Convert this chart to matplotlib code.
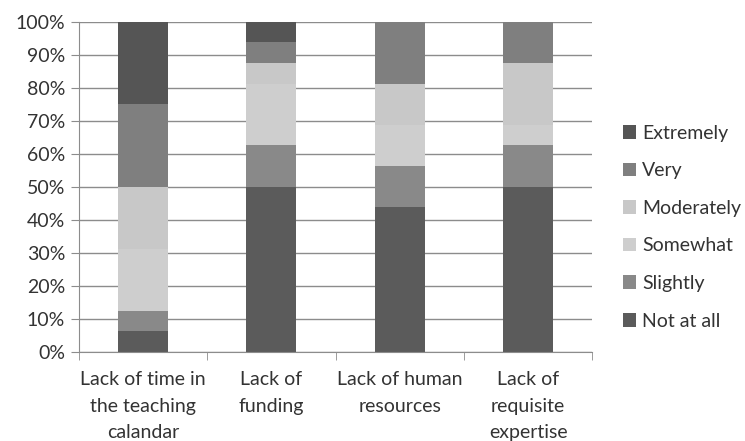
import matplotlib.pyplot as plt
import numpy as np
from matplotlib.ticker import FixedLocator, PercentFormatter

categories = ["Lack of time in\nthe teaching\ncalandar", "Lack of\nfunding",
              "Lack of human\nresources", "Lack of\nrequisite\nexpertise"]
series = ["Not at all", "Slightly", "Somewhat", "Moderately", "Very", "Extremely"]

not_at_all = [6.25, 50.0, 43.75, 50.0]
slightly = [6.25, 12.5, 12.5, 12.5]
somewhat = [18.75, 18.75, 12.5, 6.25]
moderately = [18.75, 6.25, 12.5, 18.75]
very = [25.0, 6.25, 18.75, 12.5]
extremely = [25.0, 6.25, 0.0, 0.0]

colours = ["#5b5b5b", "#898989", "#cecece", "#c8c8c8", "#7f7f7f", "#555555"]

plt.rcParams['font.family'] = ['Lato', 'DejaVu Sans']

fig = plt.figure(figsize=(7.45, 4.41), dpi=100)
ax = fig.add_axes([0.106, 0.202, 0.689, 0.749])

x = np.arange(len(categories))
bottom = np.zeros(len(categories))
handles = []
for name, vals, c in zip(series, [not_at_all, slightly, somewhat, moderately, very, extremely], colours):
  h = ax.bar(x, vals, width=0.39, bottom=bottom, color=c, zorder=2, label=name)
  handles.append(h)
  bottom += np.array(vals)

ax.set_xlim(-0.5, len(categories) - 0.5)
ax.set_ylim(0, 100)
ax.yaxis.set_major_locator(FixedLocator(np.arange(0, 101, 10)))
ax.yaxis.set_major_formatter(PercentFormatter(decimals=0))
ax.grid(axis='y', color='#8c8c8c', linewidth=1, zorder=0)

ax.set_xticks(x)
ax.set_xticklabels(categories, linespacing=1.68, va='top')
ax.set_xticks(np.arange(-0.5, len(categories), 1), minor=True)
ax.tick_params(axis='x', which='major', length=0, pad=14, labelsize=14, labelcolor='#333333')
ax.tick_params(axis='x', which='minor', length=6, color='#8c8c8c')
ax.tick_params(axis='y', length=6, color='#8c8c8c', labelsize=14, labelcolor='#333333', pad=4)

for s in ['top', 'right']:
  ax.spines[s].set_visible(False)
for s in ['left', 'bottom']:
  ax.spines[s].set_color('#8c8c8c')

leg = ax.legend(handles[::-1], series[::-1], loc='center left', bbox_to_anchor=(1.025, 0.378),
                frameon=False, fontsize=14, handlelength=0.7, handleheight=0.7,
                handletextpad=0.3, labelspacing=1.06, labelcolor='#333333')

fig.savefig("out.png", dpi=100)
